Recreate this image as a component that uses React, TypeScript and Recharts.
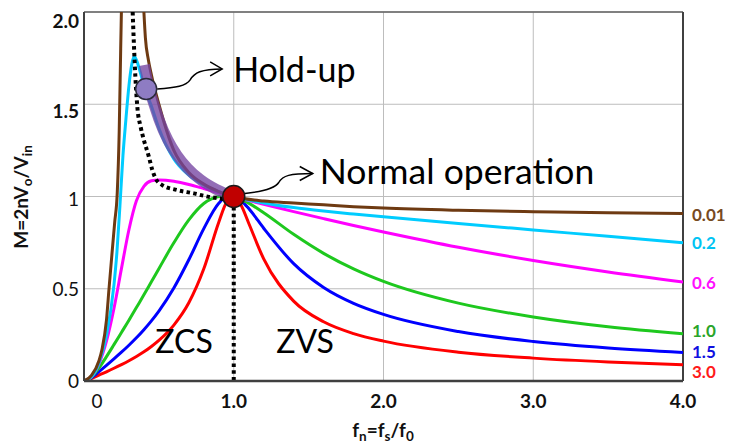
import React from 'react';
import {
  LineChart,
  Line,
  XAxis,
  YAxis,
  CartesianGrid,
  ReferenceDot,
  ReferenceLine,
  Customized,
} from 'recharts';

// ---- data ----
const fnBrown = [0, 0.05, 0.1, 0.12, 0.15, 0.167, 0.19, 0.205, 0.222, 0.235, 0.245, 0.252, 0.27, 0.3, 0.33, 0.37, 0.4, 0.41, 0.43, 0.45, 0.5, 0.6, 0.7, 0.8, 0.9, 1.0, 1.2, 1.4, 1.6, 1.8, 2.0, 2.5, 3.0, 3.5, 4.0];
const mBrown = [0, 0.03, 0.11, 0.17, 0.33, 0.5, 0.72, 0.86, 1.02, 1.35, 1.8, 2.1, 3.0, 8, 8, 2.6, 2.0, 1.86, 1.74, 1.66, 1.5, 1.25, 1.13, 1.067, 1.027, 1.0, 0.975, 0.965, 0.955, 0.945, 0.937, 0.925, 0.918, 0.912, 0.908];

const fnCyan = [0, 0.05, 0.1, 0.15, 0.2, 0.22, 0.24, 0.26, 0.28, 0.3, 0.32, 0.335, 0.35, 0.37, 0.4, 0.45, 0.5, 0.6, 0.7, 0.8, 0.9, 1.0, 1.2, 1.4, 1.6, 1.8, 2.0, 2.5, 3.0, 3.5, 4.0];
const mCyan = [0, 0.023, 0.098, 0.247, 0.52, 0.7, 0.95, 1.22, 1.42, 1.6, 1.72, 1.76, 1.74, 1.69, 1.6, 1.49, 1.37, 1.204, 1.116, 1.062, 1.026, 1.0, 0.965, 0.94, 0.921, 0.905, 0.89, 0.854, 0.819, 0.784, 0.749];

const fnCommon = [0, 0.05, 0.1, 0.15, 0.2, 0.25, 0.3, 0.35, 0.4, 0.45, 0.5, 0.6, 0.7, 0.8, 0.9, 0.95, 1.0, 1.05, 1.1, 1.2, 1.4, 1.6, 1.8, 2.0, 2.5, 3.0, 3.5, 4.0];
const mMagenta = [0, 0.023, 0.093, 0.216, 0.393, 0.609, 0.82, 0.977, 1.055, 1.085, 1.09, 1.083, 1.065, 1.043, 1.02, 1.01, 1.0, 0.989, 0.978, 0.958, 0.918, 0.88, 0.843, 0.808, 0.725, 0.653, 0.591, 0.537];
const mGreen = [0, 0.021, 0.071, 0.132, 0.197, 0.263, 0.329, 0.398, 0.467, 0.538, 0.609, 0.749, 0.873, 0.962, 1.0, 1.004, 1.0, 0.985, 0.964, 0.912, 0.795, 0.692, 0.608, 0.54, 0.422, 0.347, 0.294, 0.256];
const mBlue = [0, 0.018, 0.051, 0.085, 0.12, 0.156, 0.194, 0.234, 0.278, 0.326, 0.379, 0.504, 0.657, 0.826, 0.963, 0.997, 1.0, 0.977, 0.935, 0.828, 0.636, 0.507, 0.421, 0.361, 0.268, 0.214, 0.179, 0.155];
const mRed = [0, 0.0135, 0.032, 0.05, 0.069, 0.089, 0.11, 0.133, 0.158, 0.187, 0.22, 0.303, 0.424, 0.608, 0.861, 0.966, 1.0, 0.951, 0.855, 0.662, 0.433, 0.321, 0.257, 0.216, 0.156, 0.124, 0.103, 0.0885];

// peak-gain locus (dotted) and ZCS/ZVS border
const fnLocus = [0.325, 0.333, 0.343, 0.356, 0.378, 0.4, 0.433, 0.456, 0.478, 0.522, 0.622, 0.733, 0.833, 0.9, 1.0];
const mLocus = [2.0, 1.83, 1.65, 1.487, 1.378, 1.306, 1.216, 1.144, 1.098, 1.062, 1.035, 1.017, 0.998, 0.99, 0.98];
const fnBorder = [1.0, 1.0];
const mBorder = [0.98, 0];

// hold-up highlight band
const fnBand = [0.403, 0.42, 0.44, 0.467, 0.5, 0.56, 0.62, 0.69, 0.78, 0.88, 0.96];
const mBand = [1.713, 1.64, 1.57, 1.5, 1.42, 1.306, 1.225, 1.155, 1.09, 1.04, 1.01];

const xTicks = [0, 1, 2, 3, 4];
const xTickLabels = ['0', '1.0', '2.0', '3.0', '4.0'];
const yTicks = [0, 0.5, 1, 1.5, 2];
const yTickLabels = ['0', '0.5', '1', '1.5', '2.0'];

const qLabels = ['0.01', '0.2', '0.6', '1.0', '1.5', '3.0'];
const holdUpPoint = { fn: 0.415, m: 1.583 };
const normalPoint = { fn: 1.0, m: 1.0 };

const pts = (xs: number[], ys: number[]) => xs.map((x, i) => ({ x, y: ys[i] }));

const FONT = 'Lato, "Open Sans", sans-serif';

const XTick = (props: any) => {
  const { x, y, payload } = props;
  const i = xTicks.indexOf(payload.value);
  const isZero = payload.value === 0;
  return (
    <text x={x + (isZero ? 13 : 0)} y={y + 27} textAnchor="middle" fontFamily={FONT} fontSize={19}
      fontWeight={isZero ? 400 : 700} fill="#111">
      {xTickLabels[i]}
    </text>
  );
};

const yOffsets = [6.5, 7.5, 9.5, 14, 16];
const YTick = (props: any) => {
  const { x, y, payload } = props;
  const i = yTicks.indexOf(payload.value);
  return (
    <text x={x - 5} y={y + yOffsets[i]} textAnchor="end" fontFamily={FONT} fontSize={19}
      fontWeight={i >= 3 ? 700 : 400} fill="#111">
      {yTickLabels[i]}
    </text>
  );
};

const endLabel = (text: string, color: string, dy: number) => (p: any) => (
  <text x={p.cx + 9} y={p.cy + 6 + dy} fontFamily={FONT} fontSize={17} fontWeight={700} fill={color}>
    {text}
  </text>
);

const HoldUpShape = (p: any) => {
  const { cx, cy } = p;
  return (
    <g>
      <path d={`M${cx + 11},${cy} C${cx + 30},${cy - 1} ${cx + 40},${cy - 3} ${cx + 44},${cy - 9} C${cx + 48},${cy - 16} ${cx + 55},${cy - 20} ${cx + 76},${cy - 20}`}
        fill="none" stroke="#000" strokeWidth={1.5} />
      <path d={`M${cx + 64},${cy - 27} L${cx + 76},${cy - 20} L${cx + 64},${cy - 13}`} fill="none" stroke="#000" strokeWidth={1.5} />
      <circle cx={cx} cy={cy} r={10.5} fill="#8E7CC3" stroke="#2a2a3a" strokeWidth={1.5} />
      <text x={cx + 87} y={cy - 7} fontFamily={FONT} fontSize={34} fill="#000">Hold-up</text>
    </g>
  );
};

const NormalShape = (p: any) => {
  const { cx, cy } = p;
  return (
    <g>
      <path d={`M${cx + 11},${cy - 3} C${cx + 30},${cy - 5} ${cx + 41},${cy - 8} ${cx + 45},${cy - 14} C${cx + 49},${cy - 21} ${cx + 56},${cy - 23} ${cx + 79},${cy - 23}`}
        fill="none" stroke="#000" strokeWidth={1.5} />
      <path d={`M${cx + 66},${cy - 30} L${cx + 79},${cy - 23} L${cx + 66},${cy - 16}`} fill="none" stroke="#000" strokeWidth={1.5} />
      <circle cx={cx} cy={cy} r={11} fill="#C00000" stroke="#1a1a1a" strokeWidth={1.5} />
      <text x={cx + 86} y={cy - 12.7} fontFamily={FONT} fontSize={35.5} fill="#000">Normal operation</text>
    </g>
  );
};

const textShape = (text: string) => (p: any) => (
  <text x={p.cx} y={p.cy} textAnchor="middle" fontFamily={FONT} fontSize={32} fill="#000">{text}</text>
);

const Titles = () => (
  <g fontFamily={FONT} fontWeight={700} fill="#111">
    <text transform="translate(28,197) rotate(-90)" textAnchor="middle" fontSize={19}>
      M=2nV<tspan fontSize={13.5} dy={4}>o</tspan><tspan dy={-4}>/V</tspan><tspan fontSize={13.5} dy={4}>in</tspan>
    </text>
    <text x={383} y={437} textAnchor="middle" fontSize={19}>
      f<tspan fontSize={13.5} dy={4}>n</tspan><tspan dy={-4}>=f</tspan><tspan fontSize={13.5} dy={4}>s</tspan><tspan dy={-4}>/f</tspan><tspan fontSize={13.5} dy={4}>0</tspan>
    </text>
  </g>
);

const series = [
  { name: 'q30', xs: fnCommon, ys: mRed, color: '#FF0000', label: qLabels[5], labelColor: '#FF1A1A', dy: 7.5 },
  { name: 'q15', xs: fnCommon, ys: mBlue, color: '#0000FF', label: qLabels[4], labelColor: '#1010E0', dy: -0.7 },
  { name: 'q10', xs: fnCommon, ys: mGreen, color: '#1EC81E', label: qLabels[3], labelColor: '#2AA52A', dy: -2.8 },
  { name: 'q06', xs: fnCommon, ys: mMagenta, color: '#FF00FF', label: qLabels[2], labelColor: '#FF10FF', dy: 1.4 },
  { name: 'q02', xs: fnCyan, ys: mCyan, color: '#00CCFF', label: qLabels[1], labelColor: '#00C4F4', dy: 0 },
  { name: 'q001', xs: fnBrown, ys: mBrown, color: '#6E3A12', label: qLabels[0], labelColor: '#774A22', dy: 1.5 },
];

export default function App() {
  return (
    <div style={{ position: 'absolute', left: 0, top: 0, width: 730, height: 445, background: '#fff' }}>
      <LineChart width={730} height={445} margin={{ top: 12, right: 47, bottom: 0, left: 0 }}>
        <CartesianGrid stroke="#bdbdbd" strokeWidth={1} />
        <XAxis dataKey="x" type="number" domain={[0, 4]} ticks={xTicks} allowDataOverflow height={64}
          axisLine={{ stroke: '#404040', strokeWidth: 2.5 }} tickLine={false} tickSize={0} tickMargin={0}
          tick={<XTick />} interval={0} />
        <YAxis type="number" domain={[0, 2]} ticks={yTicks} allowDataOverflow width={84}
          axisLine={{ stroke: '#404040', strokeWidth: 2 }} tickLine={false} tickSize={0} tickMargin={0}
          tick={<YTick />} interval={0} />
        <ReferenceLine y={2} stroke="#606060" strokeWidth={1.5} />
        <ReferenceLine x={4} stroke="#404040" strokeWidth={2} />
        {series.map((s) => (
          <Line key={s.name} data={pts(s.xs, s.ys)} dataKey="y" type="monotone" stroke={s.color}
            strokeWidth={3} dot={false} activeDot={false} isAnimationActive={false} />
        ))}
        <Line data={pts(fnBand, mBand)} dataKey="y" type="monotone" stroke="#7444A2" strokeOpacity={0.78}
          strokeWidth={11} dot={false} activeDot={false} isAnimationActive={false} />
        <Line data={pts(fnLocus, mLocus)} dataKey="y" type="monotone" stroke="#000" strokeWidth={4}
          strokeDasharray="3.5 3.3" dot={false} activeDot={false} isAnimationActive={false} />
        <Line data={pts(fnBorder, mBorder)} dataKey="y" type="linear" stroke="#000" strokeWidth={4}
          strokeDasharray="3.5 3.3" dot={false} activeDot={false} isAnimationActive={false} />
        {series.map((s) => (
          <ReferenceDot key={'l' + s.name} x={4} y={s.ys[s.ys.length - 1]} r={0}
            shape={endLabel(s.label, s.labelColor, s.dy)} />
        ))}
        <ReferenceDot x={0.668} y={0.15} r={0} shape={textShape('ZCS')} />
        <ReferenceDot x={1.476} y={0.15} r={0} shape={textShape('ZVS')} />
        <ReferenceDot x={holdUpPoint.fn} y={holdUpPoint.m} r={10} shape={HoldUpShape} />
        <ReferenceDot x={normalPoint.fn} y={normalPoint.m} r={11} shape={NormalShape} />
        <Customized component={Titles} />
      </LineChart>
    </div>
  );
}
